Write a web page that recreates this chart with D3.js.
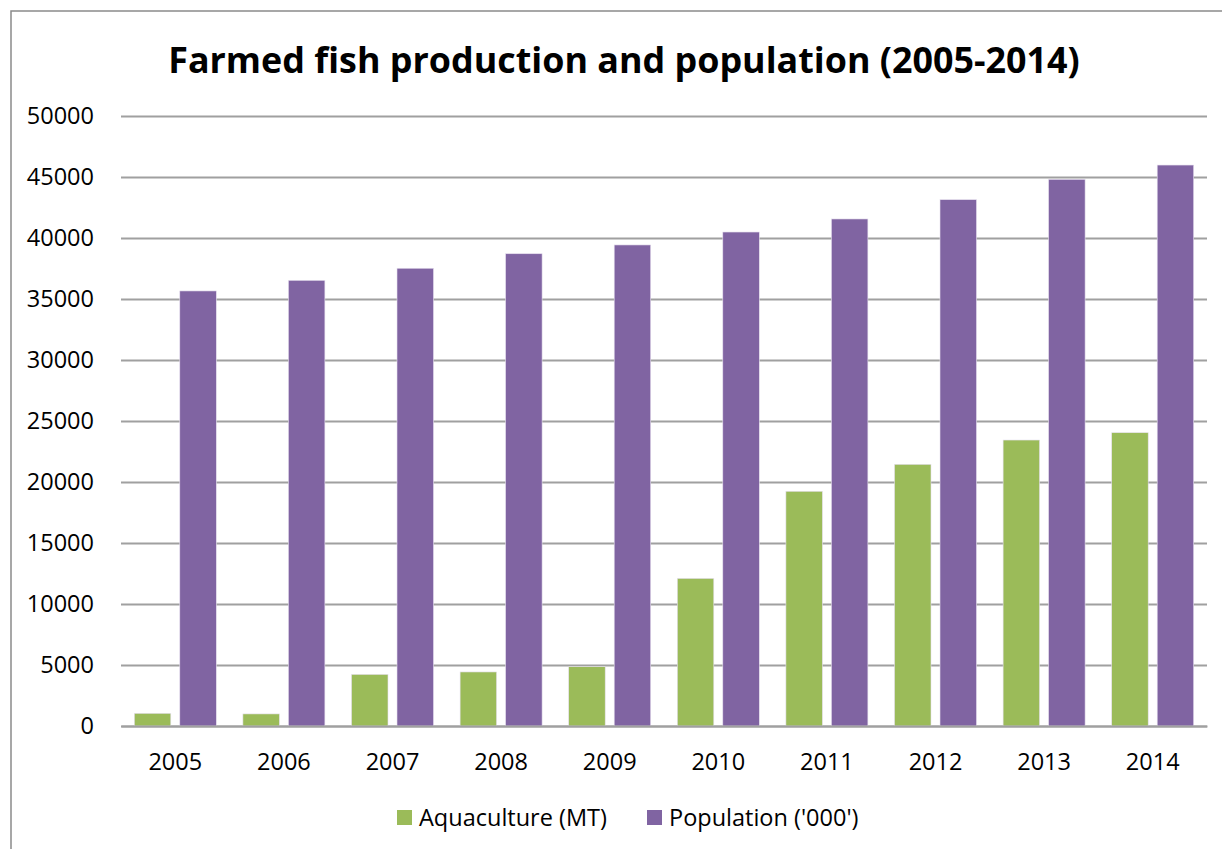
<!DOCTYPE html>
<html>
<head>
<meta charset="utf-8">
<script src="https://cdn.jsdelivr.net/npm/d3@7"></script>
<style>
  html, body { margin: 0; padding: 0; background: #ffffff; }
  svg { display: block; }
  text { font-family: "Open Sans", "Liberation Sans", sans-serif; fill: #000; }
</style>
</head>
<body>
<svg id="chart" width="1222" height="849"></svg>
<script>
const years = ["2005","2006","2007","2008","2009","2010","2011","2012","2013","2014"];
const seriesNames = ["Aquaculture (MT)", "Population ('000')"];
const aquaculture = [1040, 990, 4230, 4430, 4860, 12100, 19240, 21450, 23440, 24040];
const population = [35660, 36530, 37520, 38710, 39430, 40490, 41560, 43140, 44810, 45980];
const seriesColors = ["#9BBB59", "#8064A2"];
const yTicks = [0, 5000, 10000, 15000, 20000, 25000, 30000, 35000, 40000, 45000, 50000];
const titleText = "Farmed fish production and population (2005-2014)";

const svg = d3.select("#chart");
const W = 1222, H = 849;
const plot = { left: 121, right: 1207, top: 116, bottom: 726 };
const fs = 23.5;

svg.append("rect")
  .attr("x", 11).attr("y", 11)
  .attr("width", W + 20).attr("height", H + 20)
  .attr("fill", "#fff").attr("stroke", "#8a8a8a").attr("stroke-width", 1.5);

const x0 = d3.scaleBand().domain(years).range([plot.left, plot.right]).paddingInner(0).paddingOuter(0);
const x1 = d3.scaleBand().domain(seriesNames).range([0, x0.bandwidth()]).paddingInner(0.198).paddingOuter(0.2925);
const y = d3.scaleLinear().domain([0, 50000]).range([plot.bottom, plot.top]);

const yAxis = d3.axisLeft(y).tickValues(yTicks).tickSize(-(plot.right - plot.left)).tickPadding(27).tickFormat(d3.format("d"));
const gy = svg.append("g").attr("transform", `translate(${plot.left},0)`).call(yAxis);
gy.select(".domain").remove();
gy.selectAll(".tick line").attr("stroke", "#a0a0a0").attr("stroke-width", 2);
gy.selectAll(".tick text").attr("font-size", fs).attr("fill", "#000").attr("font-family", "'Open Sans', sans-serif");

const data = years.map((yr, i) => ({ year: yr, values: [aquaculture[i], population[i]] }));
const groups = svg.append("g").selectAll("g").data(data).join("g")
  .attr("transform", d => `translate(${x0(d.year)},0)`);
groups.selectAll("rect").data(d => d.values.map((v, j) => ({ v, s: seriesNames[j], c: seriesColors[j] })))
  .join("rect")
  .attr("x", d => x1(d.s))
  .attr("width", x1.bandwidth())
  .attr("y", d => y(d.v))
  .attr("height", d => y(0) - y(d.v))
  .attr("fill", d => d.c)
  .attr("stroke", "#e6e0ee").attr("stroke-width", 0.6);

const xAxis = d3.axisBottom(x0).tickSize(0).tickPadding(27);
const gx = svg.append("g").attr("transform", `translate(0,${plot.bottom})`).call(xAxis);
gx.select(".domain").attr("stroke", "#a0a0a0").attr("stroke-width", 2);
gx.selectAll(".tick text").attr("font-size", fs).attr("fill", "#000").attr("font-family", "'Open Sans', sans-serif");

const title = svg.append("text")
  .attr("x", 624).attr("y", 73)
  .attr("text-anchor", "middle")
  .attr("font-weight", "bold")
  .attr("font-size", 34)
  .text(titleText);
const tl = title.node().getComputedTextLength();
title.attr("font-size", 34 * 912 / tl);

const legendItems = [
  { name: seriesNames[0], color: seriesColors[0], x: 397 },
  { name: seriesNames[1], color: seriesColors[1], x: 647 }
];
const lg = svg.append("g");
legendItems.forEach(it => {
  lg.append("rect").attr("x", it.x).attr("y", 810).attr("width", 15).attr("height", 15).attr("fill", it.color);
  lg.append("text").attr("x", it.x + 22).attr("y", 826).attr("font-size", fs).text(it.name);
});
</script>
</body>
</html>
